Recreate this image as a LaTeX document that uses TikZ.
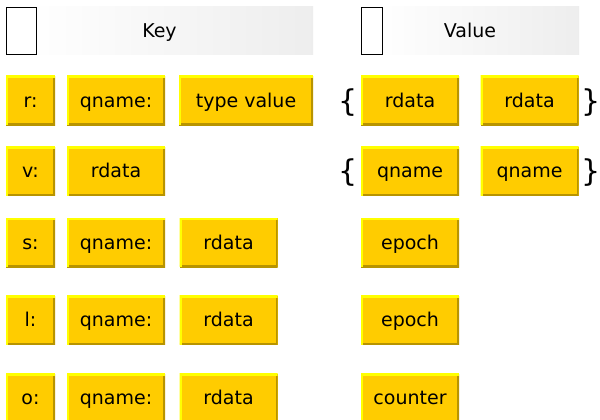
\documentclass[tikz,border=0pt]{standalone}
\usepackage{fontspec}
\setmainfont{DejaVu Sans}
\definecolor{boxfill}{RGB}{255,204,0}
\definecolor{boxhi}{RGB}{255,255,0}
\definecolor{boxlo}{RGB}{184,148,0}
\definecolor{hdrgray}{RGB}{228,228,228}
\pgfdeclarehorizontalshading{hdrshade}{100bp}{color(0bp)=(white); color(28bp)=(white); color(100bp)=(hdrgray)}
\begin{document}
\begin{tikzpicture}[x=1pt,y=-1pt,
  every node/.style={font=\fontsize{19}{23}\selectfont, text=black, text height=13.5pt, text depth=0pt},
  bbox/.style={draw=none, fill=boxfill, inner sep=0pt, minimum height=49pt,
    path picture={
      \draw[boxlo, line width=4pt] (path picture bounding box.south west) -| (path picture bounding box.north east);
      \draw[boxhi, line width=4pt] (path picture bounding box.south west) |- (path picture bounding box.north east);
    }},
  w49/.style={bbox, minimum width=49pt},
  w98/.style={bbox, minimum width=98pt},
  w134/.style={bbox, minimum width=134pt},
  hdr/.style={draw=none, inner sep=0pt, minimum height=48pt, shading=hdrshade},
  emptybox/.style={draw=black, line width=1.5pt, fill=white, inner sep=0pt, minimum height=47pt},
  brace/.style={font=\fontsize{30}{34}\selectfont, inner sep=0pt, text height=23pt, text depth=4pt}
]
\useasboundingbox (0,0) rectangle (600,420);
\fill[white] (0,0) rectangle (600,420);

% headers
\node[hdr, minimum width=307pt] (keyhdr) at (159.5,31) {Key};
\node[emptybox, minimum width=30pt] (keyempty) at (21.5,31) {};
\node[hdr, minimum width=218pt] (valhdr) at (470,31) {Value};
\node[emptybox, minimum width=21pt] (valempty) at (372,31) {};

% row 1
\node[w49] (r1) at (30.5,100.5) {r:};
\node[w98] (r2) at (116,100.5) {qname:};
\node[w134] (r3) at (246,100.5) {type value};
\node[w98] (rv1) at (410,100.5) {rdata};
\node[w98] (rv2) at (529.5,100.5) {rdata};
\node[brace] (rb1) at (348,101.5) {\{};
\node[brace] (rb2) at (591,101.5) {\}};

% row 2
\node[w49] (v1) at (30.5,171) {v:};
\node[w98] (v2) at (116,171) {rdata};
\node[w98] (vv1) at (410,171) {qname};
\node[w98] (vv2) at (529.5,171) {qname};
\node[brace] (vb1) at (348,172) {\{};
\node[brace] (vb2) at (591,172) {\}};

% row 3
\node[w49] (s1) at (30.5,242.5) {s:};
\node[w98] (s2) at (116,242.5) {qname:};
\node[w98] (s3) at (228.5,242.5) {rdata};
\node[w98] (sv1) at (410,242.5) {epoch};

% row 4
\node[w49] (l1) at (30.5,320) {l:};
\node[w98] (l2) at (116,320) {qname:};
\node[w98] (l3) at (228.5,320) {rdata};
\node[w98] (lv1) at (410,320) {epoch};

% row 5
\node[w49] (o1) at (30.5,398) {o:};
\node[w98] (o2) at (116,398) {qname:};
\node[w98] (o3) at (228.5,398) {rdata};
\node[w98] (ov1) at (410,398) {counter};
\end{tikzpicture}
\end{document}
